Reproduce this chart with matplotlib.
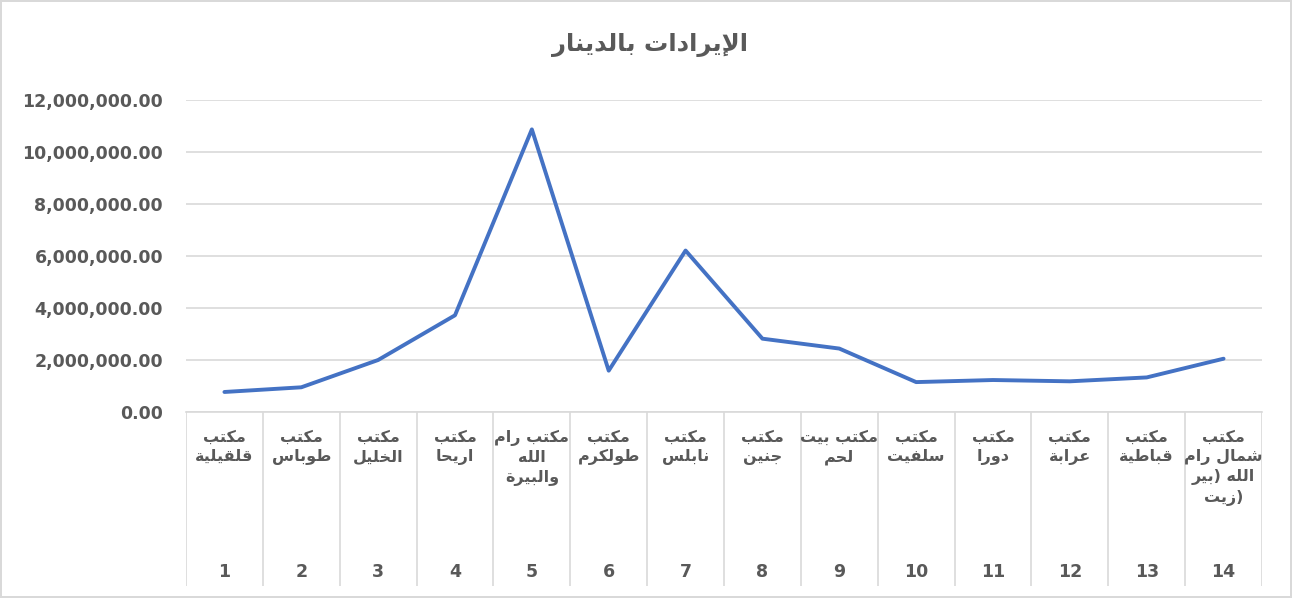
import numpy as np
import matplotlib
matplotlib.use('Agg')
import matplotlib.pyplot as plt
import matplotlib.ticker as mticker
from matplotlib.font_manager import findfont, FontProperties
from matplotlib.ft2font import FT2Font

# البيانات
titulo = "الإيرادات بالدينار"
oficinas = ["مكتب\nقلقيلية", "مكتب\nطوباس", "مكتب\nالخليل", "مكتب\nاريحا",
            "مكتب رام\nالله\nوالبيرة", "مكتب\nطولكرم", "مكتب\nنابلس", "مكتب\nجنين",
            "مكتب بيت\nلحم", "مكتب\nسلفيت", "مكتب\nدورا", "مكتب\nعرابة",
            "مكتب\nقباطية", "مكتب\nشمال رام\nالله (بير\nزيت)"]
numeros = list(range(1, 15))
ingresos = [770000, 950000, 2000000, 3720000, 10870000, 1590000, 6210000,
            2820000, 2440000, 1150000, 1230000, 1180000, 1330000, 2050000]
yticks = [0, 2000000, 4000000, 6000000, 8000000, 10000000, 12000000]

# formas de presentacion arabes (aislada, final, inicial, media)
DUAL = {'ئ': 0xFE89, 'ب': 0xFE8F, 'ت': 0xFE95, 'ث': 0xFE99, 'ج': 0xFE9D,
        'ح': 0xFEA1, 'خ': 0xFEA5, 'س': 0xFEB1, 'ش': 0xFEB5, 'ص': 0xFEB9,
        'ض': 0xFEBD, 'ط': 0xFEC1, 'ظ': 0xFEC5, 'ع': 0xFEC9, 'غ': 0xFECD,
        'ف': 0xFED1, 'ق': 0xFED5, 'ك': 0xFED9, 'ل': 0xFEDD, 'م': 0xFEE1,
        'ن': 0xFEE5, 'ه': 0xFEE9, 'ي': 0xFEF1}
RIGHT = {'آ': 0xFE81, 'أ': 0xFE83, 'ؤ': 0xFE85, 'إ': 0xFE87, 'ا': 0xFE8D,
         'ة': 0xFE93, 'د': 0xFEA9, 'ذ': 0xFEAB, 'ر': 0xFEAD, 'ز': 0xFEAF,
         'و': 0xFEED, 'ى': 0xFEEF}
LAM_ALEF = {'آ': 0xFEF5, 'أ': 0xFEF7, 'إ': 0xFEF9, 'ا': 0xFEFB}
ESPEJO = {'(': ')', ')': '('}

# ligadura de "الله" solo si la fuente la tiene
fuente = FT2Font(findfont(FontProperties(family='DejaVu Sans', weight='bold')))
hay_allah = 0xFDF2 in fuente.get_charmap()


def dar_forma(linea):
    # glifos unidos y en orden visual (derecha a izquierda)
    if hay_allah:
        linea = linea.replace('الله', '\uFDF2')
    tokens = []
    i = 0
    while i < len(linea):
        c = linea[i]
        if c == 'ل' and i + 1 < len(linea) and linea[i + 1] in LAM_ALEF:
            tokens.append((LAM_ALEF[linea[i + 1]], False, True))
            i += 2
            continue
        if c in DUAL:
            tokens.append((DUAL[c], True, True))
        elif c in RIGHT:
            tokens.append((RIGHT[c], False, True))
        else:
            tokens.append((c, False, False))
        i += 1
    salida = []
    for k, (base, dual, arabe) in enumerate(tokens):
        if not arabe:
            salida.append(ESPEJO.get(base, base))
            continue
        prev = k > 0 and tokens[k - 1][2] and tokens[k - 1][1]
        nxt = dual and k + 1 < len(tokens) and tokens[k + 1][2]
        if prev and nxt:
            off = 3
        elif prev:
            off = 1
        elif nxt:
            off = 2
        else:
            off = 0
        salida.append(chr(base + off))
    return ''.join(reversed(salida))


def linea_visual(l):
    # parrafo de izquierda a derecha: signos al principio/final quedan fuera
    ini = len(l) - len(l.lstrip('() '))
    fin = len(l.rstrip('() '))
    return l[:ini] + dar_forma(l[ini:fin]) + l[fin:]


def etiqueta(texto):
    return '\n'.join(linea_visual(l) for l in texto.split('\n'))


gris = '#595959'
rejilla = '#d9d9d9'

W, H = 1292, 598
fig = plt.figure(figsize=(W / 100, H / 100), dpi=100)
fig.patch.set_edgecolor(rejilla)
fig.patch.set_linewidth(1.5)

izq, der, arriba, abajo, fondo = 186, 1262, 100, 412, 586
ax = fig.add_axes([izq / W, 1 - abajo / H, (der - izq) / W, (abajo - arriba) / H])
x = np.array(numeros)
ax.plot(x, ingresos, color='#4472C4', linewidth=2.8, solid_joinstyle='round',
        solid_capstyle='round', zorder=3)
ax.set_xlim(0.5, len(numeros) + 0.5)
ax.set_ylim(yticks[0], yticks[-1])
ax.set_yticks(yticks)
ax.yaxis.set_major_formatter(mticker.FuncFormatter(lambda v, p: f'{v:,.2f}'))
ax.set_xticks([])
ax.tick_params(axis='y', length=0, pad=16.5, labelcolor=gris, labelsize=12.5)
for lab in ax.get_yticklabels():
    lab.set_fontweight('bold')
ax.grid(axis='y', color=rejilla, linewidth=1.2)
ax.set_axisbelow(True)
for s in ['top', 'right', 'left']:
    ax.spines[s].set_visible(False)
ax.spines['bottom'].set_color(rejilla)
ax.spines['bottom'].set_linewidth(1.2)

# tabla de categorias debajo del eje
ax2 = fig.add_axes([izq / W, 1 - fondo / H, (der - izq) / W, (fondo - abajo) / H])
ax2.set_xlim(0.5, len(numeros) + 0.5)
ax2.set_ylim(0, 1)
ax2.axis('off')
bordes = np.arange(len(numeros) + 1) + 0.5
ax2.vlines(bordes, 0, 1, color=rejilla, linewidth=1.2)
for xi, nombre, n in zip(x, oficinas, numeros):
    ax2.text(xi, (fondo - 430) / (fondo - abajo), etiqueta(nombre), ha='center', va='top',
             fontsize=11.5, fontweight='bold', color=gris, linespacing=1.35,
             family='DejaVu Sans')
    ax2.text(xi, (fondo - 572) / (fondo - abajo), str(n), ha='center', va='center',
             fontsize=12.5, fontweight='bold', color=gris)

fig.text(650 / W, 1 - 45 / H, dar_forma(titulo), ha='center', va='center',
         fontsize=17.5, fontweight='bold', color=gris)

fig.savefig('out.png', dpi=100, edgecolor=fig.get_edgecolor())
